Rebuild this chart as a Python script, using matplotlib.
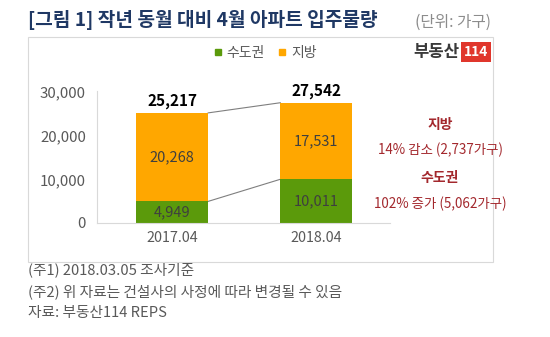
import matplotlib
matplotlib.use("Agg")
import matplotlib.pyplot as plt
from matplotlib.patches import Rectangle
from matplotlib.lines import Line2D

plt.rcParams['font.family'] = ['Noto Sans CJK KR', 'DejaVu Sans']

# data
periods = ["2017.04", "2018.04"]
capital = [4949, 10011]      # 수도권
regional = [20268, 17531]    # 지방
totals = [25217, 27542]
series_names = ["수도권", "지방"]
yticks = [0, 10000, 20000, 30000]

GREEN = "#5B9A0B"
ORANGE = "#FFA700"
NAVY = "#1F3864"
RED = "#A3282D"
GRAY = "#595959"

W, H = 550, 337
fig = plt.figure(figsize=(W / 100, H / 100), dpi=100)

def fx(px):
    return px / W

def fy(py):
    return 1 - py / H

# panel border
fig.patches.append(Rectangle((fx(28), fy(262)), fx(493) - fx(28), fy(37) - fy(262),
                             transform=fig.transFigure, fill=False,
                             edgecolor="#d9d9d9", linewidth=0.8))

# title and unit
fig.text(fx(28), fy(20), "[그림 1] 작년 동월 대비 4월 아파트 입주물량", fontsize=13.8,
         fontweight="bold", color=NAVY, va="center", ha="left")
fig.text(fx(491), fy(22), "(단위: 가구)", fontsize=11.3, color="#8c8c8c",
         va="center", ha="right")

ax = fig.add_axes([fx(97), fy(223), fx(390) - fx(97), fy(91) - fy(223)])
x = [0, 1]
width = 0.5
ax.bar(x, capital, width, color=GREEN, zorder=2)
ax.bar(x, regional, width, bottom=capital, color=ORANGE, zorder=2)

ax.set_xlim(-0.52, 1.51)
ax.set_ylim(0, 30230)

# connector lines between bars
ax.plot([x[0] + width / 2, x[1] - width / 2], [totals[0], totals[1]],
        color="#7f7f7f", linewidth=0.8, zorder=1)
ax.plot([x[0] + width / 2, x[1] - width / 2], [capital[0], capital[1]],
        color="#7f7f7f", linewidth=0.8, zorder=1)

for i in range(len(x)):
    ax.text(x[i], capital[i] / 2, f"{capital[i]:,}", ha="center", va="center",
            fontsize=10.5, color="#3f3f3f")
    ax.text(x[i], capital[i] + regional[i] / 2, f"{regional[i]:,}", ha="center",
            va="center", fontsize=10.5, color="#3f3f3f")
    ax.text(x[i], totals[i] + 800, f"{totals[i]:,}", ha="center", va="bottom",
            fontsize=11, fontweight="bold", color="black")

ax.set_xticks(x)
ax.set_xticklabels(periods, fontsize=10.3, color=GRAY)
ax.set_yticks(yticks)
ax.set_yticklabels([f"{v:,}" for v in yticks], fontsize=10.8, color=GRAY)
ax.tick_params(axis="x", length=0, pad=6)
ax.tick_params(axis="y", length=0, pad=8)
for s in ["top", "right"]:
    ax.spines[s].set_visible(False)
for s in ["left", "bottom"]:
    ax.spines[s].set_color("#d9d9d9")
    ax.spines[s].set_linewidth(0.8)

# legend
handles = [Line2D([], [], marker="s", linestyle="none", color=GREEN, markersize=5),
           Line2D([], [], marker="s", linestyle="none", color=ORANGE, markersize=5)]
fig.legend(handles, series_names, loc="center", bbox_to_anchor=(fx(265), fy(53)),
           ncol=2, frameon=False, fontsize=10, labelcolor=GRAY,
           handlelength=0.6, handletextpad=0.3, columnspacing=1.0)

# logo
fig.text(fx(459), fy(52), "부동산", fontsize=12, fontweight="bold",
         color="#3a3a3a", ha="right", va="center")
fig.text(fx(476), fy(52), "114", fontsize=10, fontweight="bold", color="white",
         ha="center", va="center",
         bbox=dict(boxstyle="square,pad=0.2", facecolor="#E0362C", edgecolor="none"))

# change notes
fig.text(fx(440), fy(125), "지방", fontsize=10, fontweight="bold", color=RED,
         ha="center", va="center")
fig.text(fx(440), fy(150), "14% 감소 (2,737가구)", fontsize=9.7, color=RED,
         ha="center", va="center")
fig.text(fx(440), fy(178), "수도권", fontsize=10, fontweight="bold", color=RED,
         ha="center", va="center")
fig.text(fx(440), fy(204), "102% 증가 (5,062가구)", fontsize=9.7, color=RED,
         ha="center", va="center")

# footnotes
notes = ["(주1) 2018.03.05 조사기준",
         "(주2) 위 자료는 건설사의 사정에 따라 변경될 수 있음",
         "자료: 부동산114 REPS"]
for k, t in enumerate(notes):
    fig.text(fx(28), fy(270 + 21.5 * k), t, fontsize=10.6, color=GRAY,
             ha="left", va="center")

fig.savefig("out.png", dpi=100, facecolor="white")
